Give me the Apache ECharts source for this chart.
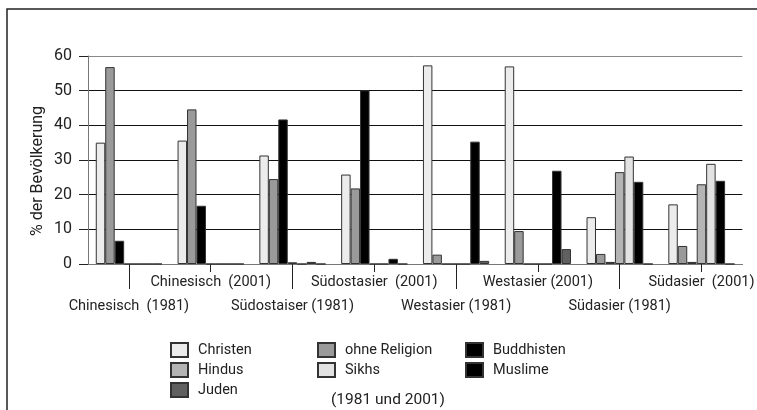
<!DOCTYPE html>
<html>
<head>
<meta charset="utf-8">
<script src="https://cdn.jsdelivr.net/npm/echarts@6/dist/echarts.min.js"></script>
<style>
  html, body { margin: 0; padding: 0; background: #fff; }
  #chart { width: 757px; height: 410px; }
</style>
</head>
<body>
<div id="chart"></div>
<script>
// Kategorien (Herkunftsgruppen, 1981 und 2001)
const categories = [
  "Chinesisch  (1981)", "Chinesisch  (2001)",
  "Südostaiser (1981)", "Südostasier  (2001)",
  "Westasier (1981)", "Westasier (2001)",
  "Südasier (1981)", "Südasier  (2001)"
];
const yTicks = [0, 10, 20, 30, 40, 50, 60];

// Werte in % der Bevölkerung
const christen     = [35, 35.6, 31.3, 25.8, 57.3, 57, 13.5, 17.2];
const ohneReligion = [56.8, 44.6, 24.5, 21.8, 2.7, 9.5, 2.9, 5.2];
const buddhisten   = [6.7, 16.8, 41.7, 50.1, 0, 0, 0.6, 0.6];
const hindus       = [0, 0, 0.5, 0, 0, 0, 26.5, 23];
const sikhs        = [0, 0, 0, 0, 0, 0, 31, 28.9];
const muslime      = [0, 0, 0.6, 1.5, 35.3, 26.9, 23.7, 24];
const juden        = [0, 0, 0, 0, 0.9, 4.3, 0, 0];

const font = "Roboto";
const textColor = "#222";

function bar(name, data, color) {
  return {
    name: name,
    type: "bar",
    data: data,
    xAxisIndex: 0,
    barGap: "0%",
    barCategoryGap: "19%",
    itemStyle: { color: color, borderColor: "#333", borderWidth: 1 },
    emphasis: { disabled: true }
  };
}

function legend(names, left) {
  return {
    data: names,
    orient: "vertical",
    left: left,
    top: 337,
    itemWidth: 17,
    itemHeight: 14,
    itemGap: 4,
    icon: "rect",
    textStyle: { fontFamily: font, fontSize: 14.5, color: textColor, padding: [0, 0, 0, 5] }
  };
}

const chart = echarts.init(document.getElementById("chart"));
chart.setOption({
  animation: false,
  grid: { left: 88, right: 7, top: 56, bottom: 146 },
  legend: [
    legend(["Christen", "Hindus", "Juden"], 165),
    legend(["ohne Religion", "Sikhs"], 312),
    legend(["Buddhisten", "Muslime"], 460)
  ],
  xAxis: [
    {
      type: "category",
      data: categories,
      position: "bottom",
      offset: 0,
      axisLine: { show: true, lineStyle: { color: "#777", width: 1 } },
      axisTick: {
        show: true, alignWithLabel: true, length: 8,
        interval: 0,
        lineStyle: { color: "#222", width: 1 }
      },
      axisLabel: {
        interval: (i) => i % 2 === 1,
        margin: 11,
        fontFamily: font, fontSize: 14.5, color: textColor
      }
    },
    {
      type: "category",
      data: categories,
      position: "bottom",
      offset: 0,
      axisLine: { show: true, lineStyle: { color: "#777", width: 1 } },
      axisTick: {
        show: true, alignWithLabel: true, length: 25,
        interval: (i) => i % 2 === 0,
        lineStyle: { color: "#222", width: 1 }
      },
      axisLabel: {
        interval: (i) => i % 2 === 0,
        margin: 35,
        fontFamily: font, fontSize: 14.5, color: textColor
      }
    }
  ],
  yAxis: {
    type: "value",
    min: yTicks[0],
    max: yTicks[yTicks.length - 1],
    interval: 10,
    axisLine: { show: true, lineStyle: { color: "#777" } },
    axisTick: { show: true, length: 9, lineStyle: { color: "#222", width: 1 } },
    axisLabel: { margin: 16, fontFamily: font, fontSize: 16, color: textColor },
    splitLine: {
      lineStyle: { color: ["#777", "#111", "#111", "#111", "#111", "#111", "#888"], width: 1 }
    }
  },
  series: [
    bar("Christen", christen, "#ececec"),
    bar("ohne Religion", ohneReligion, "#9a9a9a"),
    bar("Buddhisten", buddhisten, "#000"),
    bar("Hindus", hindus, "#b4b4b4"),
    bar("Sikhs", sikhs, "#e2e2e2"),
    bar("Muslime", muslime, "#000"),
    bar("Juden", juden, "#606060")
  ],
  graphic: [
    {
      type: "polyline",
      shape: { points: [[7, 410], [7, 9], [757, 9]] },
      style: { stroke: "#222", lineWidth: 1.5, fill: null }
    },
    {
      type: "text",
      x: 38, y: 171,
      rotation: Math.PI / 2,
      style: {
        text: "% der Bevölkerung",
        fontFamily: font, fontSize: 16, fill: textColor,
        align: "center", verticalAlign: "middle"
      }
    },
    {
      type: "text",
      x: 388, y: 400,
      style: {
        text: "(1981 und 2001)",
        fontFamily: font, fontSize: 15.5, fill: textColor,
        align: "center", verticalAlign: "middle"
      }
    }
  ]
});
</script>
</body>
</html>
